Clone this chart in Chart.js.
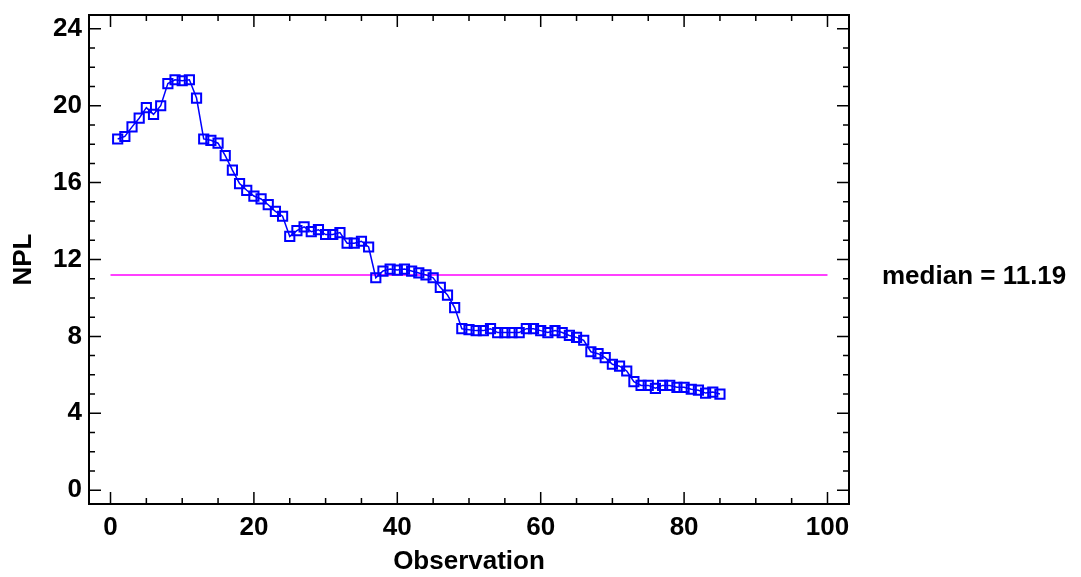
<!DOCTYPE html>
<html lang="en">
<head>
    <meta charset="UTF-8">
    <title>NPL by Observation</title>
    <script src="https://cdn.jsdelivr.net/npm/chart.js"></script>
    <style>
        body { margin: 0; background: #fff; }
        #wrap { width: 1081px; height: 577px; }
    </style>
</head>
<body>
    <div id="wrap"><canvas id="nplChart"></canvas></div>

    <script>
        // Daten
        const observations = [];
        for (let i = 1; i <= 85; i++) observations.push(i);

        const nplValues = [
            18.27, 18.4, 18.9, 19.35, 19.9, 19.55, 20.0, 21.15, 21.35, 21.3,
            21.35, 20.4, 18.27, 18.2, 18.05, 17.4, 16.65, 15.95, 15.6, 15.3,
            15.15, 14.85, 14.5, 14.25, 13.2, 13.5, 13.7, 13.45, 13.55, 13.3,
            13.3, 13.4, 12.85, 12.85, 12.95, 12.65, 11.05, 11.4, 11.5, 11.45,
            11.5, 11.4, 11.3, 11.2, 11.05, 10.55, 10.15, 9.5, 8.4, 8.35,
            8.3, 8.3, 8.4, 8.2, 8.2, 8.2, 8.2, 8.4, 8.4, 8.3,
            8.2, 8.3, 8.2, 8.05, 7.95, 7.8, 7.2, 7.1, 6.9, 6.55,
            6.45, 6.2, 5.65, 5.45, 5.45, 5.3, 5.45, 5.45, 5.35, 5.35,
            5.25, 5.2, 5.05, 5.1, 5.0
        ];

        const medianValue = 11.19;
        const medianRange = [0, 100];

        const xTicks = [0, 20, 40, 60, 80, 100];
        const yTicks = [0, 4, 8, 12, 16, 20, 24];

        const FONT = '"Liberation Sans", Arial, sans-serif';

        // Rahmen, Ticks nach innen und Median-Beschriftung
        const frame = {
            id: 'frame',
            afterDraw(chart) {
                const { ctx, chartArea: a, scales: { x, y } } = chart;
                ctx.save();
                ctx.strokeStyle = '#000';
                ctx.lineWidth = 2;
                ctx.strokeRect(a.left, a.top, a.right - a.left, a.bottom - a.top);

                ctx.lineWidth = 1.5;
                ctx.beginPath();
                for (let v = 0; v <= 100; v += 5) {
                    const px = x.getPixelForValue(v);
                    const len = v % 20 === 0 ? 12 : 6;
                    ctx.moveTo(px, a.bottom); ctx.lineTo(px, a.bottom - len);
                    ctx.moveTo(px, a.top); ctx.lineTo(px, a.top + len);
                }
                for (let v = 0; v <= 24; v += 1) {
                    const py = y.getPixelForValue(v);
                    const len = v % 4 === 0 ? 12 : 6;
                    ctx.moveTo(a.left, py); ctx.lineTo(a.left + len, py);
                    ctx.moveTo(a.right, py); ctx.lineTo(a.right - len, py);
                }
                ctx.stroke();

                ctx.fillStyle = '#000';
                ctx.font = 'bold 26px ' + FONT;
                ctx.textBaseline = 'middle';
                ctx.textAlign = 'left';
                ctx.fillText('median = ' + medianValue.toFixed(2), a.right + 33, y.getPixelForValue(medianValue) + 2);
                ctx.restore();
            }
        };

        new Chart(document.getElementById('nplChart'), {
            type: 'scatter',
            data: {
                datasets: [
                    {
                        label: 'median',
                        data: medianRange.map(v => ({ x: v, y: medianValue })),
                        showLine: true,
                        borderColor: '#ff00ff',
                        borderWidth: 1.5,
                        pointRadius: 0,
                        order: 2
                    },
                    {
                        label: 'NPL',
                        data: observations.map((o, i) => ({ x: o, y: nplValues[i] })),
                        showLine: true,
                        borderColor: '#0000ff',
                        borderWidth: 1.5,
                        pointStyle: 'rect',
                        pointRadius: 6.5,
                        pointBorderWidth: 2,
                        pointBorderColor: '#0000ff',
                        pointBackgroundColor: 'rgba(0,0,0,0)',
                        order: 1
                    }
                ]
            },
            options: {
                responsive: true,
                maintainAspectRatio: false,
                animation: false,
                layout: { padding: { left: 0, right: 232, top: 15, bottom: 0 } },
                plugins: {
                    legend: { display: false },
                    tooltip: { enabled: false }
                },
                scales: {
                    x: {
                        type: 'linear',
                        min: -3,
                        max: 103,
                        afterBuildTicks: s => { s.ticks = xTicks.map(v => ({ value: v })); },
                        afterFit: s => { s.height = 73; s.paddingLeft = 0; s.paddingRight = 0; },
                        grid: { display: false, drawTicks: false },
                        border: { display: false },
                        ticks: {
                            padding: 8,
                            color: '#000',
                            font: { family: FONT, size: 26, weight: 'bold' }
                        },
                        title: {
                            display: true,
                            text: 'Observation',
                            color: '#000',
                            padding: { top: 0, bottom: 0 },
                            font: { family: FONT, size: 26, weight: 'bold' }
                        }
                    },
                    y: {
                        type: 'linear',
                        min: -0.72,
                        max: 24.72,
                        afterBuildTicks: s => { s.ticks = yTicks.map(v => ({ value: v })); },
                        afterFit: s => { s.width = 89; s.paddingTop = 0; s.paddingBottom = 0; },
                        grid: { display: false, drawTicks: false },
                        border: { display: false },
                        ticks: {
                            padding: 7,
                            color: '#000',
                            font: { family: FONT, size: 26, weight: 'bold' }
                        },
                        title: {
                            display: true,
                            text: 'NPL',
                            color: '#000',
                            padding: { top: 8, bottom: 0 },
                            font: { family: FONT, size: 26, weight: 'bold' }
                        }
                    }
                }
            },
            plugins: [frame]
        });
    </script>
</body>
</html>
